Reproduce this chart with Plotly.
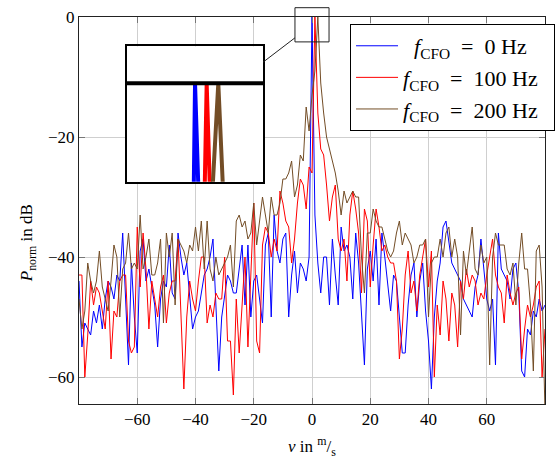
import plotly.graph_objects as go

# ---------------- data ----------------
v = list(range(-80, 81))  # velocity in m/s

p_cfo0 = [
    -44, -55, -51, -52, -53, -49, -51, -48, -52, -47, -44, -45, -47, -43, -44, -36, -47, -58, -41, -50,
    -56, -39, -37, -44, -42, -45, -48, -55, -47, -44, -45, -38, -46,
    -47, -36, -40, -43, -41, -46, -52, -50, -49, -46, -43, -42, -40, -37, -48, -59, -50, -46, -43, -44,
    -46, -46, -42, -38, -48, -38, -50, -44, -43, -47, -51, -38,
    -36, -50, -33, -39, -41, -37, -36, -50, -43, -39, -46, -41, -42, -44, -40, 0, -33, -41, -46, -40,
    -40, -48, -37, -43, -48, -35, -39, -38, -40, -47, -36,
    -41, -49, -58, -42, -39, -44, -37, -48, -36, -40, -44, -49, -43, -44, -50, -56, -56, -48, -43, -41,
    -50, -44, -41, -49, -54, -62, -50, -44, -41, -35, -34, -38,
    -41, -42, -43, -44, -47, -48, -49, -50, -45, -43, -37, -42, -47, -49, -47, -58, -36, -42, -43, -44,
    -47, -42, -41, -46, -59, -60, -52, -53, -49, -50, -47, -49, -48,
]

p_cfo100 = [
    -43, -43, -60, -53, -44, -48, -45, -46, -49, -52, -44, -57, -49, -50, -44, -43, -43, -54, -56, -55,
    -35, -45, -36, -42, -52, -44, -47, -50, -45, -43, -51, -46, -44,
    -44, -37, -50, -62, -50, -44, -47, -49, -44, -40, -40, -51, -48, -50, -46, -47, -47, -40, -54, -54,
    -63, -47, -56, -47, -40, -55, -43, -31, -54, -56, -38, -35,
    -36, -40, -37, -39, -29, -31, -34, -35, -41, -37, -31, -27, -28, -32, -25, -26, 0, -16, -22, -23,
    -28, -34, -30, -28, -37, -39, -37, -44, -33, -29, -32,
    -36, -46, -32, -34, -45, -38, -32, -35, -39, -38, -40, -41, -41, -44, -57, -52, -43, -39, -46, -44,
    -49, -43, -40, -37, -45, -39, -60, -48, -53, -44, -47, -54,
    -46, -48, -55, -44, -47, -42, -45, -43, -44, -48, -46, -47, -43, -40, -37, -43, -45, -46, -51, -43,
    -46, -48, -46, -45, -57, -52, -48, -50, -48, -45, -44, -60, -52,
]

p_cfo200 = [
    -47, -52, -49, -41, -44, -46, -44, -39, -45, -47, -49, -44, -38, -40, -50, -42, -41, -36, -42, -41,
    -42, -33, -42, -40, -37, -43, -43, -41, -37, -51, -36, -40, -36,
    -48, -37, -38, -39, -41, -38, -39, -35, -39, -34, -42, -34, -42, -44, -40, -43, -42, -41, -40, -38,
    -45, -34, -33, -35, -34, -37, -36, -31, -38, -34, -30, -33,
    -36, -30, -33, -33, -31, -27, -27, -26, -24, -30, -28, -23, -24, -15, -19, -13, -9, 0, -11, -16,
    -20, -22, -24, -26, -29, -33, -29, -31, -30, -29, -30,
    -30, -40, -46, -36, -36, -32, -34, -35, -35, -37, -39, -40, -39, -36, -34, -38, -36, -37, -38, -41,
    -40, -38, -38, -37, -50, -41, -40, -40, -37, -40, -36, -35,
    -40, -37, -40, -53, -39, -43, -39, -35, -42, -43, -38, -41, -40, -58, -40, -36, -38, -38, -38, -42,
    -43, -41, -48, -41, -36, -42, -42, -48, -59, -39, -38, -45, -66,
]

series = [
    ("<i>f</i><sub>CFO</sub>\u2002=\u20020\u2005Hz", p_cfo0, "#0000ff"),
    ("<i>f</i><sub>CFO</sub>\u2002=\u2002100\u2005Hz", p_cfo100, "#ff0000"),
    ("<i>f</i><sub>CFO</sub>\u2002=\u2002200\u2005Hz", p_cfo200, "#734d26"),
]
legend_pad = ["\u00a0\u00a0", "", ""]
legend_tail = "\u00a0\u00a0"

x_ticks = [-60, -40, -20, 0, 20, 40, 60]
y_ticks = [-60, -40, -20, 0]

# ---------------- layout constants ----------------
X_RANGE = [-80, 80]
Y_RANGE = [-64.5, 0]
ZOOM_X = [-5.85, 5.85]        # region magnified by the inset (data units)
ZOOM_Y = [-4.15, 1.55]
INSET_X = [0.103, 0.395]      # inset position (paper)
INSET_Y = [0.574, 0.924]

FONT = "Liberation Serif"

fig = go.Figure()

for (name, y, col), pad in zip(series, legend_pad):
    fig.add_trace(go.Scatter(x=v, y=y, mode="lines", name=pad + name + legend_tail,
                             line=dict(color=col, width=1), xaxis="x", yaxis="y"))
for name, y, col in series:
    fig.add_trace(go.Scatter(x=v, y=y, mode="lines", showlegend=False,
                             line=dict(color=col, width=4), xaxis="x2", yaxis="y2"))

axis_common = dict(showgrid=True, gridcolor="#cfcfcf", gridwidth=1, zeroline=False,
                   showline=True, linecolor="#222222", linewidth=1, mirror="ticks",
                   ticks="inside", ticklen=6, tickcolor="#777777", tickwidth=1,
                   automargin=False,
                   tickfont=dict(family=FONT, size=17, color="black"))

fig.update_layout(
    width=558, height=459,
    margin=dict(l=79, r=13, t=17, b=55, autoexpand=False),
    paper_bgcolor="white", plot_bgcolor="white",
    font=dict(family=FONT, color="black"),
    xaxis=dict(range=X_RANGE, tickvals=x_ticks, domain=[0, 1], **axis_common),
    yaxis=dict(range=Y_RANGE, tickvals=y_ticks, domain=[0, 1], **axis_common),
    xaxis2=dict(range=ZOOM_X, domain=INSET_X, anchor="y2", showgrid=False, zeroline=False,
                showticklabels=False, ticks="", showline=True, mirror=True,
                linecolor="black", linewidth=2),
    yaxis2=dict(range=ZOOM_Y, domain=INSET_Y, anchor="x2", showgrid=False, zeroline=False,
                showticklabels=False, ticks="", showline=True, mirror=True,
                linecolor="black", linewidth=2),
    legend=dict(x=1.0215, y=0.982, xanchor="right", yanchor="top",
                bordercolor="black", borderwidth=1, bgcolor="white",
                font=dict(family=FONT, size=22, color="black"),
                itemwidth=42, tracegroupgap=0),
    showlegend=True,
)

# magnified axis line inside the inset
fig.add_shape(type="line", xref="x2", yref="y2", x0=ZOOM_X[0], x1=ZOOM_X[1], y0=0, y1=0,
              line=dict(color="black", width=4))

# small zoom rectangle on the main axes (paper coordinates)
def to_paper(x, y):
    px = (x - X_RANGE[0]) / (X_RANGE[1] - X_RANGE[0])
    py = (y - Y_RANGE[0]) / (Y_RANGE[1] - Y_RANGE[0])
    return px, py

rx0, ry0 = to_paper(ZOOM_X[0], ZOOM_Y[0])
rx1, ry1 = to_paper(ZOOM_X[1], ZOOM_Y[1])
fig.add_shape(type="rect", xref="paper", yref="paper", x0=rx0, x1=rx1, y0=ry0, y1=ry1,
              line=dict(color="#222222", width=1))

# connecting line between inset and zoom rectangle (centre-to-centre, clipped to boxes)
ci = ((INSET_X[0] + INSET_X[1]) / 2, (INSET_Y[0] + INSET_Y[1]) / 2)
cr = ((rx0 + rx1) / 2, (ry0 + ry1) / 2)
dx, dy = cr[0] - ci[0], cr[1] - ci[1]

def exit_t(hw, hh):
    ts = []
    if dx != 0:
        ts.append(hw / abs(dx))
    if dy != 0:
        ts.append(hh / abs(dy))
    return min(ts)

t0 = exit_t((INSET_X[1] - INSET_X[0]) / 2, (INSET_Y[1] - INSET_Y[0]) / 2)
t1 = 1 - exit_t((rx1 - rx0) / 2, (ry1 - ry0) / 2)
fig.add_shape(type="line", xref="paper", yref="paper",
              x0=ci[0] + t0 * dx, y0=ci[1] + t0 * dy, x1=ci[0] + t1 * dx, y1=ci[1] + t1 * dy,
              line=dict(color="#222222", width=1))

# axis titles
fig.add_annotation(text="<i>v</i> in <sup>m</sup>/<sub>s</sub>", xref="paper", yref="paper",
                   x=0.5, y=-0.111, xanchor="center", yanchor="middle", showarrow=False,
                   font=dict(family=FONT, size=17, color="black"))
fig.add_annotation(text="<i>P</i><sub>norm</sub> in dB", xref="paper", yref="paper",
                   x=-0.109, y=0.416, xanchor="center", yanchor="middle", showarrow=False,
                   textangle=-90, font=dict(family=FONT, size=17, color="black"))

fig.write_html("out.html")
